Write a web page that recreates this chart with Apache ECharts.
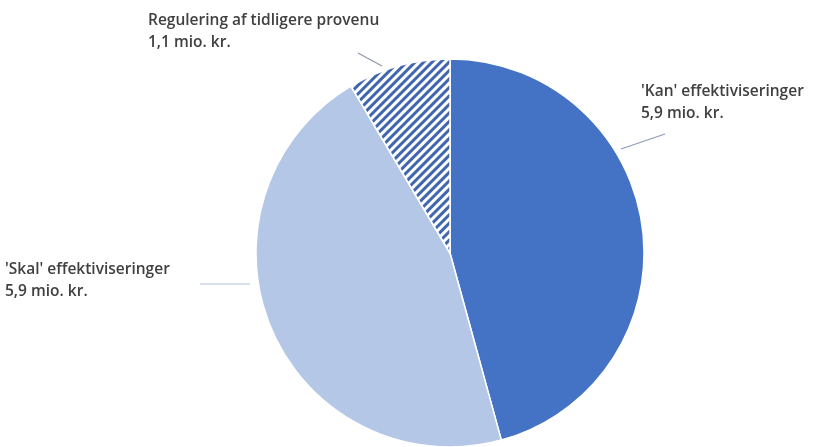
<!DOCTYPE html>
<html>
<head>
<meta charset="utf-8">
<script src="https://cdn.jsdelivr.net/npm/echarts@6/dist/echarts.min.js"></script>
<style>html,body{margin:0;padding:0;background:#fff}#c{width:815px;height:447px}</style>
</head>
<body>
<div id="c"></div>
<script>
const categories = ["'Kan' effektiviseringer", "'Skal' effektiviseringer", "Regulering af tidligere provenu"];
const values = [5.9, 5.9, 1.1];
const unit = 'mio. kr.';

// label annotation layout (pixels): label block top-left and leader line endpoints
const labelPos = [[641, 81], [5, 259], [148, 10]];
const leaderLines = [
  [[621, 149], [665, 134]],
  [[200, 284], [250, 284]],
  [[382, 66], [358, 53]]
];

const chart = echarts.init(document.getElementById('c'), null, {renderer: 'canvas'});
const styles = [
  {color: '#4472C4'},
  {color: '#B4C7E7'},
  {color: '#FFFFFF', decal: {symbol: 'rect', symbolSize: 1, dashArrayX: [1, 0], dashArrayY: [2.2, 2.8], rotation: -Math.PI / 4, color: '#4066AE', backgroundColor: '#FFFFFF'}}
];
const lineColors = ['#8C9BB8', '#B8C4D8', '#9098A8'];
chart.setOption({
  animation: false,
  series: [{
    type: 'pie',
    center: [450, 253],
    radius: 194,
    startAngle: 90,
    clockwise: true,
    itemStyle: {borderColor: '#fff', borderWidth: 1.5},
    label: {
      show: true,
      position: 'outside',
      overflow: 'none',
      fontFamily: 'Open Sans',
      fontSize: 15.5,
      fontWeight: 600,
      lineHeight: 22,
      color: '#404040',
      formatter: p => p.name + '\n' + String(p.value).replace('.', ',') + ' ' + unit
    },
    labelLine: {show: true, length: 10, length2: 10, smooth: false},
    labelLayout: function (p) {
      const i = p.dataIndex;
      return {x: labelPos[i][0], y: labelPos[i][1], width: 200, align: 'left', verticalAlign: 'top', hideOverlap: false, labelLinePoints: leaderLines[i]};
    },
    data: categories.map((c, i) => ({
      name: c,
      value: values[i],
      itemStyle: styles[i],
      labelLine: {lineStyle: {color: lineColors[i], width: 1.2}}
    }))
  }]
});
</script>
</body>
</html>
